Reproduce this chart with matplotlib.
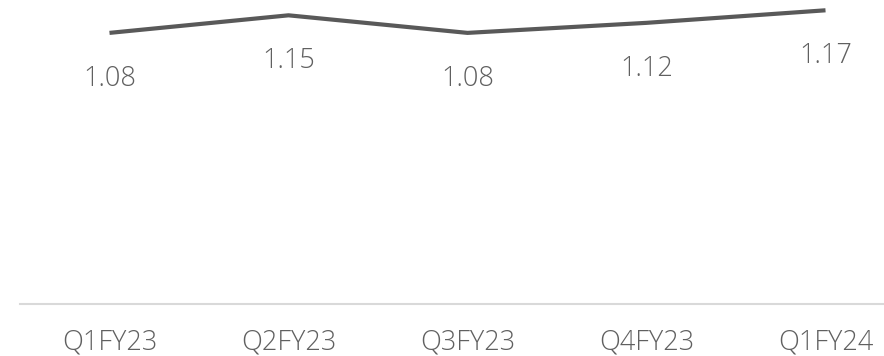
import matplotlib
matplotlib.use("Agg")
import matplotlib.pyplot as plt

quarters = ["Q1FY23", "Q2FY23", "Q3FY23", "Q4FY23", "Q1FY24"]
values = [1.08, 1.15, 1.08, 1.12, 1.17]
labels = ["1.08", "1.15", "1.08", "1.12", "1.17"]

plt.rcParams['font.family'] = ['Open Sans', 'DejaVu Sans']

W, H = 884, 356
fig = plt.figure(figsize=(W / 100, H / 100), dpi=100)
ax = fig.add_axes([20 / W, 52 / H, 895 / W, 304 / H])

x = list(range(len(quarters)))
ax.plot(x, values, color='#595959', lw=3, solid_capstyle='butt')
for xi, v, lab in zip(x, values, labels):
    ax.annotate(lab, (xi, v), xytext=(0, -33), textcoords='offset points',
                ha='center', va='center', fontsize=19.5, color='#606060',
                fontweight='light')

ax.set_xlim(-0.5, 4.5)
ax.set_ylim(0, 1.211)
ax.set_xticks(x)
ax.set_xticklabels(quarters, fontsize=19.5, color='#606060', fontweight='light')
ax.tick_params(axis='x', length=0, pad=18)
ax.set_yticks([])
for s in ['top', 'right', 'left']:
    ax.spines[s].set_visible(False)
ax.spines['bottom'].set_color('#d9d9d9')
ax.spines['bottom'].set_linewidth(1.5)

fig.savefig('out.png', dpi=100)
